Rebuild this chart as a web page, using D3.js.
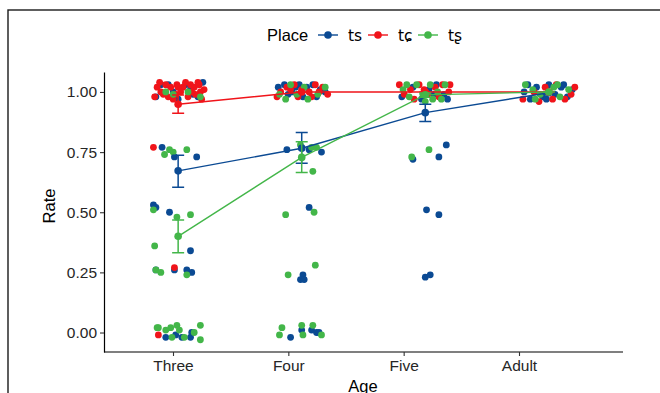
<!DOCTYPE html>
<html>
<head>
<meta charset="utf-8">
<script src="https://cdn.jsdelivr.net/npm/d3@7"></script>
<style>
  body { margin: 0; background: #fff; }
  text { font-family: "Liberation Sans", Arial, "DejaVu Sans", sans-serif; }
</style>
</head>
<body>
<div id="chart"></div>
<script>
// categories + legend
var ages = ["Three", "Four", "Five", "Adult"];
var places = ["ts", "tɕ", "tʂ"];
var colors = ["#0b4a93", "#f0141a", "#43b649"];
var yTicks = [0, 0.25, 0.5, 0.75, 1];

// group means and error bar ends, one per age
var meanTs = [0.672, 0.766, 0.914, 0.997];
var loTs   = [0.604, 0.704, 0.877, 0.990];
var hiTs   = [0.737, 0.831, 0.949, 1.000];
var meanTc = [0.949, 1.000, 1.000, 1.000];
var loTc   = [0.911, 1.000, 1.000, 1.000];
var hiTc   = [0.987, 1.000, 1.000, 1.000];
var meanTr = [0.400, 0.728, 0.988, 1.000];
var loTr   = [0.332, 0.665, 0.978, 1.000];
var hiTr   = [0.468, 0.793, 0.996, 1.000];

// raw jittered observations: [age index, x jitter, rate]
var ptsTs = [
  [0,-0.18,0.98],[0,-0.14,1.03],[0,-0.08,1.03],[0,0.06,1.03],[0,0.10,1.01],[0,0.20,1.04],[0,0.16,0.98],[0,-0.04,1.00],[0,0.00,0.97],[0,0.12,0.99],
  [0,-0.13,0.77],[0,-0.03,0.73],[0,0.15,0.73],[0,-0.20,0.53],[0,-0.18,0.52],[0,-0.07,0.50],[0,0.10,0.34],
  [0,-0.18,0.26],[0,-0.03,0.26],[0,0.07,0.26],[0,0.11,0.25],
  [0,-0.10,-0.02],[0,-0.02,-0.01],[0,0.03,-0.02],[0,0.10,-0.02],[0,0.11,0.00],
  [1,-0.19,1.02],[1,-0.14,1.03],[1,-0.08,1.00],[1,-0.02,1.03],[1,0.04,1.02],[1,0.09,1.03],[1,0.15,1.01],[1,0.19,1.00],[1,-0.11,0.99],[1,0.01,0.98],[1,0.12,0.98],[1,-0.05,1.02],
  [1,-0.12,0.76],[1,0.00,0.77],[1,0.06,0.76],[1,0.16,0.75],[1,0.06,0.52],
  [1,0.01,0.24],[1,-0.01,0.22],[1,0.02,0.22],
  [1,-0.09,-0.02],[1,0.00,0.01],[1,0.08,0.01],[1,0.12,0.00],[1,0.14,0.00],
  [2,-0.19,0.98],[2,-0.10,1.02],[2,-0.03,0.97],[2,0.03,1.01],[2,0.09,1.03],[2,0.15,0.99],[2,0.18,0.97],[2,0.07,0.99],
  [2,-0.10,0.72],[2,0.11,0.73],[2,0.17,0.78],[2,0.01,0.51],[2,0.11,0.49],[2,0.00,0.23],[2,0.04,0.24],
  [3,-0.20,1.00],[3,-0.15,0.97],[3,-0.10,1.02],[3,-0.05,0.98],[3,0.00,1.03],[3,0.05,0.99],[3,0.10,1.02],[3,0.15,0.98],[3,0.19,1.01],[3,-0.02,0.97],[3,0.12,1.03],[3,-0.17,1.03]
];
var ptsTc = [
  [0,-0.17,1.02],[0,-0.12,0.99],[0,-0.01,1.03],[0,-0.02,0.99],[0,0.04,1.02],[0,0.13,1.02],[0,0.17,1.03],[0,0.18,1.00],[0,-0.06,1.02],[0,0.08,0.98],
  [0,-0.14,1.00],[0,0.02,1.00],[0,0.14,0.99],[0,-0.08,0.98],[0,0.10,1.03],[0,0.21,1.01],[0,-0.19,0.98],[0,0.06,1.04],[0,-0.10,1.03],[0,0.19,0.97],
  [0,-0.04,0.97],[0,0.11,1.00],[0,0.16,1.04],[0,-0.15,1.04],[0,0.00,1.02],
  [0,-0.20,0.77],[0,-0.03,0.27],[0,-0.16,-0.01],
  [1,-0.17,1.00],[1,-0.12,1.02],[1,-0.06,1.03],[1,0.00,1.01],[1,0.06,1.00],[1,0.11,1.03],[1,0.17,1.02],[1,0.21,0.99],[1,-0.20,0.98],[1,-0.03,0.98],[1,0.08,0.98],[1,0.14,1.00],[1,-0.09,1.01],
  [2,-0.21,1.03],[2,-0.17,0.99],[2,-0.12,1.01],[2,-0.05,1.03],[2,0.02,0.99],[2,0.08,1.02],[2,0.14,1.03],[2,0.19,1.00],[2,-0.09,0.97],[2,0.11,0.98],[2,-0.01,1.01],[2,0.20,1.03],
  [3,-0.21,0.97],[3,-0.12,1.00],[3,-0.03,1.02],[3,0.06,1.03],[3,0.13,0.97],[3,0.18,0.99],[3,0.21,1.02],[3,0.03,0.97],[3,-0.08,0.96]
];
var ptsTr = [
  [0,-0.04,0.99],[0,0.08,1.00],[0,0.18,0.98],[0,-0.10,1.00],
  [0,-0.07,0.76],[0,-0.04,0.75],[0,-0.11,0.74],[0,0.07,0.76],[0,-0.20,0.51],[0,-0.01,0.48],[0,0.10,0.49],[0,-0.19,0.36],
  [0,-0.18,0.26],[0,-0.14,0.25],[0,0.07,0.24],
  [0,-0.17,0.02],[0,-0.16,0.02],[0,-0.06,0.02],[0,-0.01,0.03],[0,-0.05,-0.02],[0,0.05,-0.02],[0,0.13,0.00],[0,0.18,0.03],[0,0.18,-0.03],[0,-0.10,0.01],[0,0.01,0.01],
  [1,-0.18,0.99],[1,-0.13,0.97],[1,-0.04,0.99],[1,0.05,0.97],[1,0.13,0.99],[1,0.19,1.02],[1,-0.09,1.03],[1,0.02,1.02],
  [1,-0.01,0.78],[1,0.08,0.77],[1,0.12,0.77],[1,0.09,0.67],[1,-0.13,0.49],[1,0.10,0.50],[1,-0.11,0.24],[1,0.11,0.28],
  [1,-0.16,0.02],[1,-0.18,-0.01],[1,0.00,0.03],[1,0.01,-0.01],[1,0.09,0.03],[1,0.16,-0.01],
  [2,-0.18,1.01],[2,-0.13,0.98],[2,-0.07,1.03],[2,-0.02,0.99],[2,0.04,1.03],[2,0.10,1.00],[2,0.16,1.03],[2,0.06,0.97],[2,-0.15,1.03],[2,0.13,0.97],[2,0.00,0.96],
  [2,-0.11,0.73],[2,0.03,0.76],
  [3,-0.19,1.03],[3,-0.13,1.01],[3,-0.07,0.99],[3,0.00,1.00],[3,0.04,1.02],[3,0.09,0.98],[3,0.16,1.01],[3,-0.11,0.97],[3,0.07,1.03]
];

var means = [meanTs, meanTc, meanTr];
var los = [loTs, loTc, loTr];
var his = [hiTs, hiTc, hiTr];
var pts = [ptsTs, ptsTc, ptsTr];

var width = 660, height = 393;
var svg = d3.select("#chart").append("svg")
  .attr("width", width)
  .attr("height", height);

// outer frame
svg.append("rect")
  .attr("x", 8).attr("y", 10)
  .attr("width", 720).attr("height", 460)
  .attr("fill", "none")
  .attr("stroke", "#1a1a1a")
  .attr("stroke-width", 1.4);

// data positions (1..4) and label positions
var x = d3.scaleLinear().domain([0.4, 4.6]).range([104, 623]);
var xLab = d3.scaleLinear().domain([1, 4]).range([173, 519]);
var y = d3.scaleLinear().domain([-0.081, 1.083]).range([352, 72]);

var yAxis = svg.append("g")
  .attr("transform", "translate(104,0)")
  .call(d3.axisLeft(y).tickValues(yTicks).tickFormat(d3.format(".2f")).tickSize(4).tickSizeOuter(0).tickPadding(3));

var xAxis = svg.append("g")
  .attr("transform", "translate(0,352)")
  .call(d3.axisBottom(xLab).tickValues([1, 2, 3, 4]).tickFormat(function(d) { return ages[d - 1]; }).tickSize(4).tickSizeOuter(0).tickPadding(4));
xAxis.select(".domain").attr("d", "M104,0H623");

[yAxis, xAxis].forEach(function(a) {
  a.attr("font-size", 15.5).attr("font-family", "Liberation Sans, Arial, sans-serif");
  a.select(".domain").attr("stroke", "#000").attr("stroke-width", 1.2);
  a.selectAll(".tick line").attr("stroke", "#333").attr("stroke-width", 1.1);
  a.selectAll(".tick text").attr("fill", "#262626");
});

svg.append("text")
  .attr("x", 363).attr("y", 392)
  .attr("text-anchor", "middle")
  .style("font-size", "16.5px")
  .text("Age");
svg.append("text")
  .attr("transform", "translate(55,206) rotate(-90)")
  .attr("text-anchor", "middle")
  .style("font-size", "16.5px")
  .text("Rate");

// jittered points
places.forEach(function(p, i) {
  svg.append("g").selectAll("circle")
    .data(pts[i])
    .enter().append("circle")
    .attr("cx", function(d) { return x(d[0] + 1 + d[1]); })
    .attr("cy", function(d) { return y(d[2]); })
    .attr("r", 3.4)
    .attr("fill", colors[i]);
});

// mean lines, error bars, mean dots
var line = d3.line()
  .x(function(d, j) { return x(j + 1); })
  .y(function(d) { return y(d); });

places.forEach(function(p, i) {
  var g = svg.append("g");
  g.append("path")
    .datum(means[i])
    .attr("d", line)
    .attr("fill", "none")
    .attr("stroke", colors[i])
    .attr("stroke-width", 1.4);

  g.selectAll(".eb")
    .data(ages)
    .enter().append("path")
    .attr("d", function(d, j) {
      var cx = x(j + 1), y0 = y(los[i][j]), y1 = y(his[i][j]);
      return "M" + (cx - 6) + "," + y0 + "H" + (cx + 6) +
             "M" + cx + "," + y0 + "V" + y1 +
             "M" + (cx - 6) + "," + y1 + "H" + (cx + 6);
    })
    .attr("fill", "none")
    .attr("stroke", colors[i])
    .attr("stroke-width", 1.5);

  g.selectAll("circle")
    .data(means[i])
    .enter().append("circle")
    .attr("cx", function(d, j) { return x(j + 1); })
    .attr("cy", function(d) { return y(d); })
    .attr("r", 3.8)
    .attr("fill", colors[i]);
});

// legend
var legend = svg.append("g");
legend.append("text")
  .attr("x", 267).attr("y", 41)
  .style("font-size", "16.5px")
  .text("Place");
var keyX = [318, 368, 418];
places.forEach(function(p, i) {
  var k = legend.append("g").attr("transform", "translate(" + keyX[i] + ",35)");
  k.append("line").attr("x1", 0).attr("x2", 20).attr("stroke", colors[i]).attr("stroke-width", 1.4);
  k.append("circle").attr("cx", 10).attr("r", 3.8).attr("fill", colors[i]);
  k.append("text").attr("x", 30).attr("y", 5.5)
    .style("font-size", "15.5px")
    .style("font-family", "'DejaVu Sans', sans-serif")
    .text(p);
});
</script>
</body>
</html>
